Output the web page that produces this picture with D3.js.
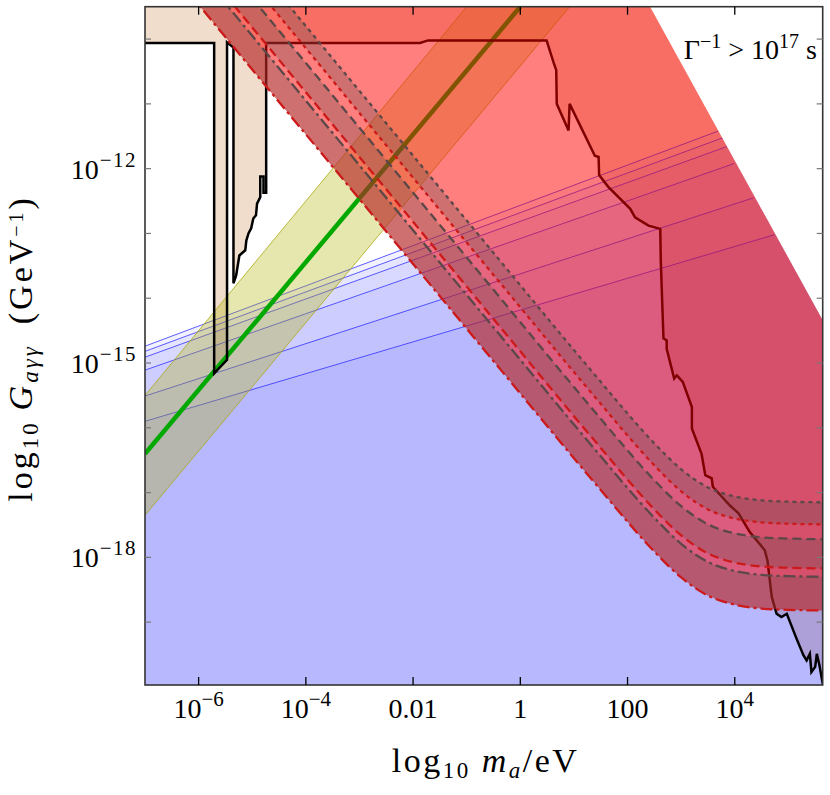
<!DOCTYPE html>
<html>
<head>
<meta charset="utf-8">
<style>
  body { margin: 0; background: #fff; }
  text { font-family: "Liberation Serif", "Times New Roman", serif; fill: #000; }
</style>
</head>
<body>
<div id="chart"></div>
<script src="https://cdn.jsdelivr.net/npm/d3@7"></script>
<script>
// every value below is a log10: x = log10(m_a / eV), y = log10(G / GeV^-1)
var massRange = [-7, 5.64];
var couplingRange = [-19.97, -9.5];

var xTicks = [-6, -4, -2, 0, 2, 4];
var xTickLabels = [["10", "−6"], ["10", "−4"], ["0.01", ""], ["1", ""], ["100", ""], ["10", "4"]];
var yTicks = [-19, -18, -17, -16, -15, -14, -13, -12, -11, -10];
var yLabelled = [-18, -15, -12];

// lifetime limit, Gamma^-1 = 1e17 s
var lifetime = [[2.42, -9.50], [5.64, -14.34]];

// blue limits (left end at the frame, right end on the lifetime line)
var blueLeft = [-14.74, -14.82, -14.91, -15.11, -15.51, -15.90];
var blueRightM = [3.69, 3.82, 3.85, 3.99, 4.35, 4.74];
var blueRightG = [-11.42, -11.51, -11.66, -11.92, -12.45, -13.02];

// QCD axion line and its band
var axionLine = [[-7, -16.40], [0.0, -9.50]];
var axionUpper = [[-7, -15.50], [-1.0, -9.50]];
var axionLower = [[-7, -17.35], [0.92, -9.50]];

// experimental exclusion contour (tan, excluded above)
var contour = [
  [-7.05, -10.06], [-5.71, -10.06], [-5.71, -15.16], [-5.47, -14.95], [-5.47, -10.05],
  [-5.35, -10.13], [-5.35, -13.77], [-5.30, -13.65], [-5.24, -13.34], [-5.13, -13.26],
  [-5.11, -13.11], [-5.07, -13.00], [-5.02, -12.92], [-4.98, -12.77], [-4.93, -12.72],
  [-4.91, -12.54], [-4.85, -12.44], [-4.85, -12.12], [-4.79, -12.12], [-4.79, -12.37],
  [-4.74, -12.37], [-4.74, -10.06], [-1.87, -10.06], [-1.72, -10.02], [0.49, -10.02],
  [0.62, -10.36], [0.67, -10.48], [0.68, -11.00], [0.90, -11.41], [0.92, -11.00],
  [1.39, -11.80], [1.46, -11.82], [1.47, -12.10], [1.64, -12.28], [2.05, -12.62],
  [2.14, -12.75], [2.39, -12.88], [2.61, -12.93], [2.62, -13.42], [2.67, -14.62],
  [2.73, -14.65], [2.73, -14.78], [2.87, -15.24], [2.92, -15.19], [3.03, -15.29],
  [3.20, -15.68], [3.20, -16.01], [3.38, -16.40], [3.45, -16.73], [3.57, -16.78],
  [3.59, -16.91], [3.91, -17.20], [4.07, -17.32], [4.28, -17.61], [4.56, -17.89],
  [4.61, -18.05], [4.69, -18.61], [4.78, -18.87], [4.87, -18.92], [4.97, -18.87],
  [5.15, -19.25], [5.28, -19.51], [5.34, -19.59], [5.40, -19.49], [5.43, -19.77],
  [5.50, -19.69], [5.53, -19.49], [5.58, -19.67], [5.64, -19.95], [5.70, -20.05]
];

// dashed curves: common mass grid, one coupling array per curve
var curveMass = [-7, 0, 1, 1.5, 2, 2.5, 3, 3.5, 4, 4.5, 5, 5.64];
var redDashDot = [-8.47, -15.47, -16.47, -16.96, -17.45, -17.91, -18.31, -18.59, -18.73, -18.79, -18.81, -18.82];
var greyDashDot = [-7.95, -14.95, -15.95, -16.44, -16.93, -17.39, -17.79, -18.07, -18.21, -18.27, -18.29, -18.30];
var redDashed = [-7.82, -14.82, -15.82, -16.31, -16.80, -17.26, -17.66, -17.94, -18.08, -18.14, -18.16, -18.17];
var greyDashed = [-7.37, -14.37, -15.37, -15.86, -16.35, -16.81, -17.21, -17.49, -17.63, -17.69, -17.71, -17.72];
var redDotted = [-7.14, -14.14, -15.14, -15.63, -16.12, -16.58, -16.98, -17.26, -17.40, -17.46, -17.48, -17.49];
var greyDotted = [-6.80, -13.80, -14.80, -15.29, -15.78, -16.24, -16.64, -16.92, -17.06, -17.12, -17.14, -17.15];

var margin = {top: 6.7, right: 7.3, bottom: 110, left: 145},
    width = 830 - margin.left - margin.right,
    height = 685 - margin.top;

var x = d3.scaleLog()
  .domain([Math.pow(10, massRange[0]), Math.pow(10, massRange[1])])
  .range([0, width]);
var y = d3.scaleLog()
  .domain([Math.pow(10, couplingRange[0]), Math.pow(10, couplingRange[1])])
  .range([height, 0]);

function px(d) { return x(Math.pow(10, d[0])); }
function py(d) { return y(Math.pow(10, d[1])); }

var line = d3.line().x(px).y(py);
var smooth = d3.line().x(px).y(py).curve(d3.curveMonotoneX);

function zipCurve(vals) { return curveMass.map(function(m, i) { return [m, vals[i]]; }); }

var svg = d3.select("#chart").append("svg")
  .attr("width", 830)
  .attr("height", 795)
  .append("g")
  .attr("transform", "translate(" + margin.left + "," + margin.top + ")");

// clip: inside the frame and below the lifetime line
var gTop = couplingRange[1], gBot = couplingRange[0];
var clipPoly = [[massRange[0], gTop], lifetime[0], lifetime[1], [massRange[1], gBot], [massRange[0], gBot]];
svg.append("clipPath").attr("id", "plotclip")
  .append("path").attr("d", line(clipPoly) + "Z");

var g = svg.append("g").attr("clip-path", "url(#plotclip)");

// tan exclusion
g.append("path")
  .attr("d", line(contour.concat([[5.70, -9.3], [-7.05, -9.3]])) + "Z")
  .attr("fill", "#f0ddcb");

// blue regions
blueLeft.forEach(function(L, i) {
  var poly = [[-7, L], [blueRightM[i], blueRightG[i]], [5.70, -9.3], [5.70, -20.1], [-7, -20.1]];
  g.append("path").attr("d", line(poly) + "Z").attr("fill", "rgba(0,0,255,0.05)");
});
blueLeft.forEach(function(L, i) {
  g.append("path").attr("d", line([[-7, L], [blueRightM[i], blueRightG[i]]]))
    .attr("fill", "none").attr("stroke", "rgba(40,40,255,0.75)").attr("stroke-width", 1);
});

// axion band
g.append("path")
  .attr("d", line(axionUpper.concat(axionLower.slice().reverse())) + "Z")
  .attr("fill", "rgba(178,178,12,0.33)");
[axionUpper, axionLower].forEach(function(e) {
  g.append("path").attr("d", line(e)).attr("fill", "none")
    .attr("stroke", "rgba(170,170,20,0.8)").attr("stroke-width", 1);
});
g.append("path").attr("d", line(axionLine)).attr("fill", "none")
  .attr("stroke", "#00a800").attr("stroke-width", 4.5);

// exclusion contour outline
g.append("path").attr("d", line(contour)).attr("fill", "none")
  .attr("stroke", "#000").attr("stroke-width", 2.5).attr("stroke-linejoin", "miter");

// red region above the lowest curve
g.append("path")
  .attr("d", smooth(zipCurve(redDashDot)) + "L" + px([5.70, -9.3]) + "," + py([5.70, -9.3]) +
        "L" + px([-7.05, -9.3]) + "," + py([-7.05, -9.3]) + "Z")
  .attr("fill", "rgba(255,0,0,0.5)");

// grey bands between each red curve and its grey partner
[[redDashDot, greyDashDot], [redDashed, greyDashed], [redDotted, greyDotted]].forEach(function(p) {
  var lo = zipCurve(p[0]), hi = zipCurve(p[1]).reverse();
  var d = smooth(lo) + smooth(hi).replace(/^M/, "L") + "Z";
  g.append("path").attr("d", d).attr("fill", "rgba(95,80,80,0.3)");
});

var red = "#cc1a1a", grey = "#5c4848";
var curves = [
  [redDashDot, red, "12,4,3,4"], [greyDashDot, grey, "12,4,3,4"],
  [redDashed, red, "9,5"], [greyDashed, grey, "9,5"],
  [redDotted, red, "4,4"], [greyDotted, grey, "4,4"]
];
curves.forEach(function(c) {
  g.append("path").attr("d", smooth(zipCurve(c[0]))).attr("fill", "none")
    .attr("stroke", c[1]).attr("stroke-width", 2.3).attr("stroke-dasharray", c[2]);
});

// frame
svg.append("rect").attr("width", width).attr("height", height)
  .attr("fill", "none").attr("stroke", "#333").attr("stroke-width", 1.6);

// x ticks (inward, top and bottom)
xTicks.forEach(function(t, i) {
  var xx = x(Math.pow(10, t));
  svg.append("line").attr("x1", xx).attr("x2", xx).attr("y1", height).attr("y2", height - 8)
    .attr("stroke", "#000").attr("stroke-width", 1.3);
  svg.append("line").attr("x1", xx).attr("x2", xx).attr("y1", 0).attr("y2", 8)
    .attr("stroke", "#000").attr("stroke-width", 1.3);
  var lab = svg.append("text").attr("x", xx).attr("y", height + 33)
    .attr("text-anchor", "middle").style("font-size", "28px");
  lab.append("tspan").text(xTickLabels[i][0]);
  if (xTickLabels[i][1]) {
    lab.append("tspan").attr("dy", -12).style("font-size", "21px").text(xTickLabels[i][1]);
  }
});

// y ticks (every decade, inward, left and right)
yTicks.forEach(function(t) {
  var yy = y(Math.pow(10, t));
  svg.append("line").attr("x1", 0).attr("x2", 6).attr("y1", yy).attr("y2", yy)
    .attr("stroke", "#777").attr("stroke-width", 1.2);
  svg.append("line").attr("x1", width).attr("x2", width - 6).attr("y1", yy).attr("y2", yy)
    .attr("stroke", "#777").attr("stroke-width", 1.2);
  if (yLabelled.indexOf(t) >= 0) {
    var lab = svg.append("text").attr("x", -8).attr("y", yy + 10)
      .attr("text-anchor", "end").style("font-size", "28px");
    lab.append("tspan").text("10");
    lab.append("tspan").attr("dy", -12).attr("dx", 1).style("font-size", "21px")
      .style("letter-spacing", "1.5px").text("−" + Math.abs(t));
  }
});

// axis titles
var xt = svg.append("text").attr("x", 391.7 - margin.left).attr("y", 772.3 - margin.top)
  .style("font-size", "34px").style("letter-spacing", "2.5px");
xt.append("tspan").text("log");
xt.append("tspan").attr("dy", 6).style("font-size", "23px").text("10");
xt.append("tspan").attr("dy", -6).text(" ");
xt.append("tspan").style("font-style", "italic").text("m");
xt.append("tspan").attr("dy", 6).style("font-size", "23px").style("font-style", "italic").text("a");
xt.append("tspan").attr("dy", -6).text("/eV");

var yt = svg.append("text")
  .attr("transform", "translate(" + (32 - margin.left) + "," + (501.7 - margin.top) + ") rotate(-90)")
  .style("font-size", "34px").style("letter-spacing", "3px");
yt.append("tspan").text("log");
yt.append("tspan").attr("dy", 6).style("font-size", "23px").text("10");
yt.append("tspan").attr("dy", -6).text("\u2009");
yt.append("tspan").style("font-style", "italic").text("G");
yt.append("tspan").attr("dy", 6).style("font-size", "23px").style("font-style", "italic").text("aγγ");
yt.append("tspan").attr("dy", -6).text("\u2002(GeV");
yt.append("tspan").attr("dy", -9).style("font-size", "20px").text("−1");
yt.append("tspan").attr("dy", 9).text(")");

// lifetime annotation
var ann = svg.append("text").attr("x", 817 - margin.left).attr("y", 59 - margin.top)
  .attr("text-anchor", "end").style("font-size", "28px");
ann.append("tspan").text("Γ");
ann.append("tspan").attr("dy", -11).style("font-size", "20px").text("−1");
ann.append("tspan").attr("dy", 11).text(" > 10");
ann.append("tspan").attr("dy", -11).style("font-size", "20px").text("17");
ann.append("tspan").attr("dy", 11).text(" s");
</script>
</body>
</html>
